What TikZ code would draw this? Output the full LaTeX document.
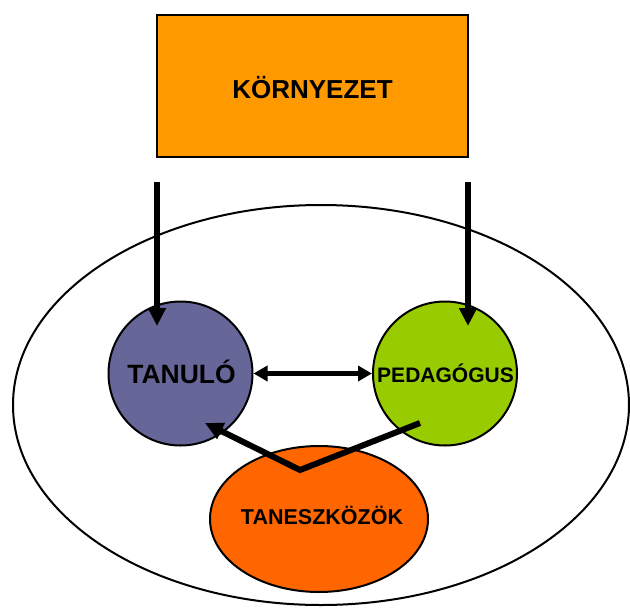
\documentclass[tikz,border=0pt]{standalone}
\usepackage{fontspec}
\setmainfont{Liberation Sans}
\usetikzlibrary{arrows.meta,calc,shapes.geometric}
\definecolor{envorange}{HTML}{FF9900}
\definecolor{learnerblue}{HTML}{666699}
\definecolor{teachergreen}{HTML}{99CC00}
\definecolor{toolorange}{HTML}{FF6600}
\begin{document}
\begin{tikzpicture}[x=1pt,y=-1pt,
  outline/.style={draw=black, line width=2pt},
  actor/.style={circle, outline, minimum size=144pt, inner sep=0pt},
  heavyarrow/.style={line width=6pt, -{Triangle[width=17pt,length=18pt]}},
  linkarrow/.style={line width=5pt, {Triangle[width=15pt,length=14pt]}-{Triangle[width=15pt,length=14pt]}},
  bigtext/.style={font=\fontsize{26}{31}\selectfont\bfseries},
  midtext/.style={font=\fontsize{26.5}{31}\selectfont\bfseries},
  smalltext/.style={font=\fontsize{21}{25}\selectfont\bfseries}]
\useasboundingbox (0,0) rectangle (630,611);

% outer field
\node[ellipse, outline, minimum width=616pt, minimum height=400pt, inner sep=0pt] (field) at (321,405) {};

% environment box
\node[rectangle, draw=black, line width=2.5pt, fill=envorange,
      minimum width=311pt, minimum height=142pt, inner sep=0pt] (env) at (312.5,86) {};
\node[bigtext] (envlabel) at (312.5,88) {KÖRNYEZET};

% actors
\node[actor, fill=learnerblue] (learner) at (180.5,373.5) {};
\node[midtext] (learnerlabel) at (181.5,372) {TANULÓ};
\node[actor, fill=teachergreen] (teacher) at (445,373.5) {};
\node[smalltext] (teacherlabel) at (445.5,373) {PEDAGÓGUS};

% tools
\node[ellipse, outline, fill=toolorange, minimum width=218pt, minimum height=146pt, inner sep=0pt] (tools) at (319,519) {};
\node[smalltext, font=\fontsize{21.5}{25}\selectfont\bfseries] (toolslabel) at (322,515) {TANESZKÖZÖK};

% influence of the environment
\coordinate (envL) at (157,182);
\coordinate (envR) at (468,182);
\coordinate (learnerIn) at (157,326);
\coordinate (teacherIn) at (468,326);
\draw[heavyarrow] (envL) -- (learnerIn);
\draw[heavyarrow] (envR) -- (teacherIn);

% learner <-> teacher
\draw[linkarrow] (learner.east) -- (teacher.west);

% teacher -> tools -> learner
\coordinate (teacherOut) at (420,423);
\coordinate (toolsTop) at (300,470);
\coordinate (learnerOut) at (205,423);
\draw[heavyarrow] (teacherOut) -- (toolsTop) -- (learnerOut);
\end{tikzpicture}
\end{document}
